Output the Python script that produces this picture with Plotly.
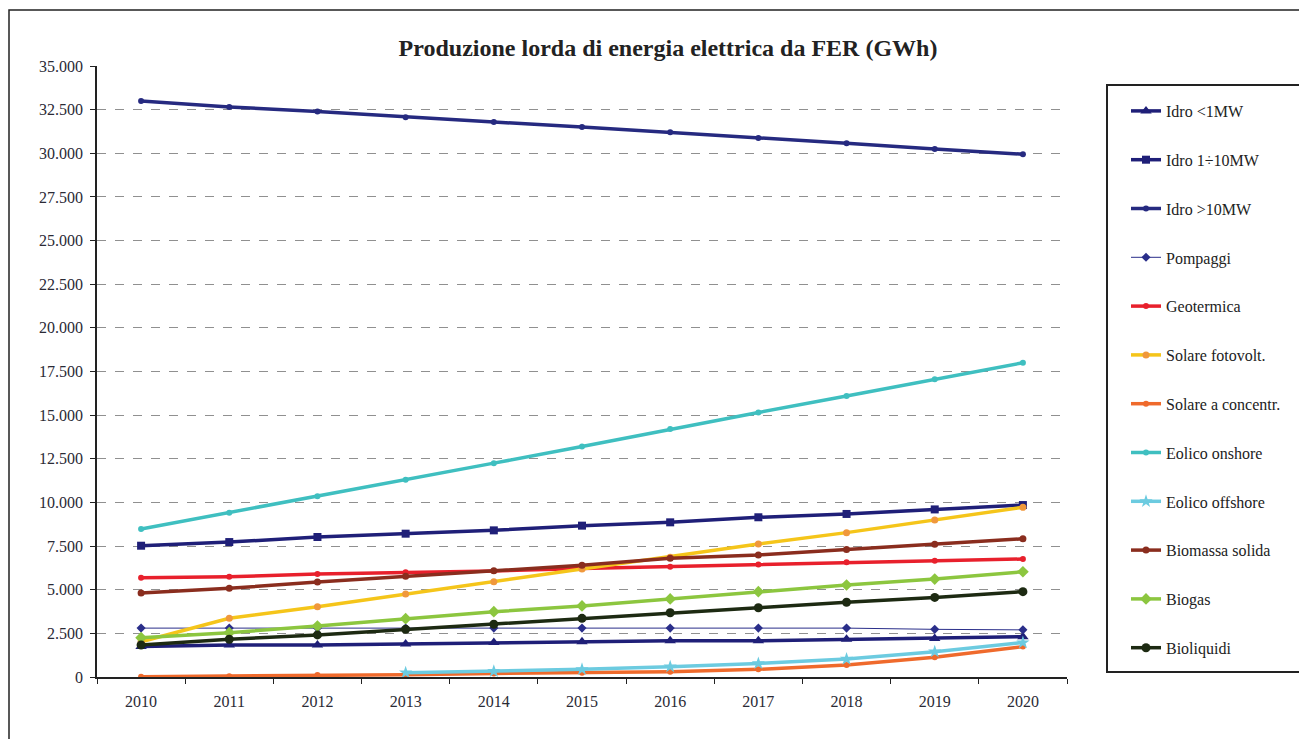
import plotly.graph_objects as go

years = [str(y) for y in range(2010, 2021)]

idro_lt1 = [1740, 1830, 1830, 1890, 1970, 2020, 2080, 2080, 2160, 2210, 2310]
idro_1_10 = [7520, 7730, 8020, 8210, 8400, 8670, 8860, 9150, 9340, 9600, 9850]
idro_gt10 = [33000, 32650, 32400, 32070, 31790, 31500, 31200, 30870, 30580, 30240, 29950]
pompaggi = [2800, 2800, 2800, 2800, 2800, 2800, 2800, 2800, 2800, 2730, 2700]
geotermica = [5690, 5740, 5900, 6000, 6070, 6220, 6320, 6450, 6570, 6660, 6760]
solare_fv = [2020, 3360, 4030, 4750, 5460, 6190, 6860, 7620, 8270, 8990, 9720]
solare_conc = [20, 50, 110, 130, 200, 250, 300, 440, 690, 1130, 1740]
eolico_on = [8480, 9410, 10350, 11300, 12250, 13200, 14200, 15150, 16100, 17050, 18000]
eolico_off = [None, None, None, 250, 330, 440, 590, 780, 1030, 1450, 1970]
biomassa = [4810, 5080, 5440, 5770, 6090, 6400, 6800, 6990, 7310, 7600, 7920]
biogas = [2250, 2540, 2920, 3340, 3740, 4070, 4470, 4890, 5270, 5610, 6030]
bioliquidi = [1830, 2160, 2410, 2730, 3020, 3360, 3680, 3970, 4280, 4560, 4890]

series = [
    ("Idro <1MW", idro_lt1, "#1f1f78", 3.5, "triangle-up", 10, "#1f1f78"),
    ("Idro 1÷10MW", idro_1_10, "#1f1f78", 3.5, "square", 8, "#1f1f78"),
    ("Idro >10MW", idro_gt10, "#262a80", 3.5, "circle", 6, "#262a80"),
    ("Pompaggi", pompaggi, "#2a2e8a", 1, "diamond", 7, "#2a2e8a"),
    ("Geotermica", geotermica, "#e8202c", 3.5, "circle", 6, "#e8202c"),
    ("Solare fotovolt.", solare_fv, "#f5c51a", 3.5, "circle", 7, "#f0983c"),
    ("Solare a concentr.", solare_conc, "#ef6a2c", 3.5, "circle", 6, "#ef6a2c"),
    ("Eolico onshore", eolico_on, "#3fbfc0", 3.5, "circle", 6, "#3fbfc0"),
    ("Eolico offshore", eolico_off, "#6ccbe0", 3.5, "star", 10, "#6ccbe0"),
    ("Biomassa solida", biomassa, "#8a2d1e", 3.5, "circle", 7, "#8a2d1e"),
    ("Biogas", biogas, "#8cc63f", 3.5, "diamond", 9, "#8cc63f"),
    ("Bioliquidi", bioliquidi, "#1d2a12", 3.5, "circle", 9, "#1d2a12"),
]

fig = go.Figure()
for i, (name, vals, col, w, sym, ms, mcol) in enumerate(series):
    fig.add_trace(go.Scatter(
        x=years, y=vals, name=name, mode="lines+markers",
        line=dict(color=col, width=w),
        marker=dict(symbol=sym, size=ms, color=mcol),
        legendgroup=f"g{i}",
        connectgaps=False,
    ))

# page is offset by the 8px body margin
OFF = 8
W, H = 1307 - OFF, 739 - OFF
L, R, T, B = 97 - OFF, 1067 - OFF, 66 - OFF, 677 - OFF
pw, ph = R - L, B - T

def px(x):
    return (x - OFF - L) / pw

def py(y):
    return (B - (y - OFF)) / ph

fig.update_layout(
    width=W, height=H,
    margin=dict(l=L, r=W - R, t=T, b=H - B),
    paper_bgcolor="white", plot_bgcolor="white",
    separators=",.",
    font=dict(family="Liberation Serif", size=16, color="#222222"),
    title=dict(text="<b>Produzione lorda di energia elettrica da FER (GWh)</b>",
               x=(668 - OFF) / W, xanchor="center", y=1 - (48 - OFF) / H, yanchor="middle",
               font=dict(family="Liberation Serif", size=24, color="#222222")),
    legend=dict(
        x=px(1126), xanchor="left",
        y=py(94), yanchor="top",
        borderwidth=0,
        bgcolor="rgba(0,0,0,0)",
        font=dict(family="Liberation Serif", size=16, color="#222222"),
        traceorder="grouped", tracegroupgap=25,
        itemwidth=30,
    ),
    xaxis=dict(
        type="category", tickson="boundaries", ticks="outside", ticklen=5,
        tickcolor="#222222", showline=True, linecolor="#222222", linewidth=1.5,
        showgrid=False, tickfont=dict(size=16, color="#2a2a35"),
        ticklabelstandoff=9,
        range=[-0.5, 10.5],
    ),
    yaxis=dict(
        range=[0, 35000], dtick=2500, tickformat=",d",
        ticks="outside", ticklen=5, tickcolor="#222222",
        showline=True, linecolor="#222222", linewidth=1.5,
        showgrid=True, gridcolor="#909090", griddash="dash", gridwidth=1,
        zeroline=False, tickfont=dict(size=16, color="#2a2a35"),
        ticklabelstandoff=4,
    ),
    showlegend=True,
)

# outer frame
fig.add_shape(type="rect", xref="paper", yref="paper",
              x0=px(9), x1=px(1330),
              y0=py(760), y1=py(10),
              line=dict(color="#222222", width=1.5), layer="below")
# legend frame
fig.add_shape(type="rect", xref="paper", yref="paper",
              x0=px(1107), x1=px(1330),
              y0=py(672), y1=py(85),
              line=dict(color="#222222", width=2), layer="below")

fig.write_html("out.html")
